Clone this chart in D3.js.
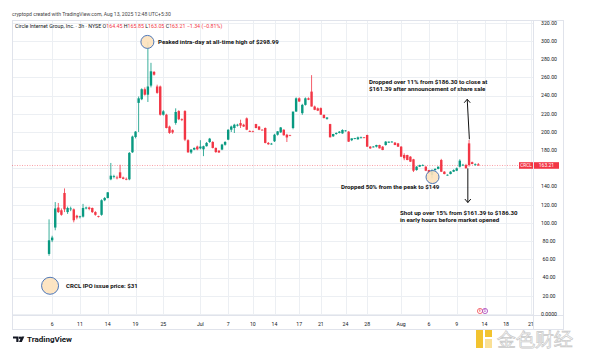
<!DOCTYPE html>
<html><head><meta charset="utf-8">
<script src="https://cdn.jsdelivr.net/npm/d3@7"></script>
<style>body{margin:0;background:#fff}svg{display:block}text{font-family:Roboto,"Noto Sans",sans-serif}</style>
</head><body><svg id="c" width="600" height="356"></svg>
<script>
// ---- data (3h candles, CRCL) ----
const openP=[66,81,95,117,114,133,112,115,115,108,107,107,116,117,116.5,112,107.5,109,125,127.5,
148,151,150,155.7,150,148.5,148,177.7,194.5,232,236,247,241,251,266,250,250,219,219,206,
202,210,223,214,223,191,177.5,180.7,184,182,181,184.4,189,189,182.5,179.5,180.7,186,191.6,202.5,
204.4,207,209.8,208,215,201,200.7,208.7,206,202.5,204.4,188,187,189.8,197,199.6,202.5,197,196.4,204.4,
222.5,237,220.7,229.8,237,244.4,228,226,226.2,218.9,214.5,208.7,195.3,197.8,199,198.5,201.3,200.4,191,193,
192,193.5,194.1,196.7,183.9,183.5,183.9,185.7,183.9,185.7,188.3,189,188.3,187.5,183.9,174.7,174.7,172.9,170,158.2,
161.9,163,161.9,158.2,152.7,158.2,159.5,169.2,156.4,152.7,153.8,156.4,157.5,161.9,163.7,163.7,187.5,166.8,164.5,164.45];
const highP=[104,86,123,122,116,138,118,118,116,109,108,121,118,118,117,113,108,126,128.5,134,
166,153,152,164,151,150,178,196,201,239,248,249,299,276,267,252,251,224,220,207,
203,226,224,215,224,192,181,183,185,191,185,189,193.5,190,183,180,187,190,203,207,
209,209,213.5,209,216,202,201.5,209,206.5,203,205,189,188,198,201,205.5,203,198,197,205,
238,238,231,238,238,262.5,229,227,227,219,216,209,198,199.5,201,203,202,201,193,193.5,
195,195,194.5,197,184.5,184.5,186,186,184.5,190,189.5,190,189,188,184.5,176.6,175,173.5,170.5,162.5,
164,164.5,162.5,158.5,159,160,162,170.5,157,153.5,157,159,161,170,165,165,191.2,167.5,165.5,165.85];
const lowP=[64,79,92,111,108,112,110,113,100.7,104,105,106,115,114,111,108,106,108,124,127,
147,149,148,149,148,147,147,177,193,200,235,240,233,249,262,242,218,218,204,198,
198,208,213,212,190,177,176,180,180,181,173.5,184,188,182,177,177,180,185,191,200,
198.9,206,204.4,205.5,202,200,200,204,202,202,187.5,186,186,189,196,199,196,189,196,203,
222,233,218.9,229,235,228,224,223,218.9,215,213.5,194,194.5,197,198.5,198,200.5,189,190,192,
191.5,193,193.5,183.5,181.5,183,183,182,180,185,188,188.5,185.5,183.5,172.5,169,169,167,156,157.5,
161.5,162.5,157,154,149,157.5,159,156,153.5,152,153.5,156,157,161,163,160,162,164.5,163,163.05];
const closeP=[81,84,116,112,109,115,116.5,116,103,106,107.3,116.5,117,115.5,112,109,107,125,127.5,133.7,
152,151.5,149.5,149.5,148.5,148,177,195,200.4,237,247,241,250,266.7,263,243,219,222.7,204.4,199,
199.5,222,214,213.6,191.6,177.7,180.7,182.5,181,184,184.4,188,192.7,182.5,178,177.5,186.2,189,202.5,206,
208,208,207,206,202.5,200.7,200.5,204.4,202.5,202,188,186.5,187.2,197,200.7,205,196.4,194,196,222.5,
237,233.5,229.8,237,235.5,228,224.4,223.5,219,215.3,216,194.2,197.8,199,200.4,202.2,201.7,189.4,193,193.2,
194.1,194.1,194,183.9,182,184,185.7,182,180.2,189.4,189.4,189.4,185.7,183.9,172.9,171.1,169.2,167.4,157.5,161.9,
163.7,163.7,157.5,154.6,158.2,159.5,161.9,156.4,153.8,153,156.4,158.2,160.1,168.5,164,160.1,163.7,164.9,164.5,163.21];
const tickIdx=[1,10,19,28,37,49,58,66,73,81,88,96,103,114,123,132,141,148,156];
const tickLabels=["6","11","14","19","25","Jul","7","10","14","17","21","24","28","Aug","6","9","14","18","21"];
const yTicks=[0,20,40,60,80,100,120,140,160,180,200,220,240,260,280,300,320];
const lastPrice=163.21;

const G="#089981", R="#f23645";
const svg=d3.select("#c");
const L=12, P=533, T=20, B=315, RA=563, BA=329;
const x=d3.scaleLinear().domain([-12,156.7]).range([L,P]);
const y=d3.scaleLinear().domain([0,320]).range([314,22.8]);

// grid
const grid=svg.append("g");
grid.selectAll("line.h").data(yTicks).join("line")
  .attr("x1",L).attr("x2",P).attr("y1",d=>Math.round(y(d))+0.5).attr("y2",d=>Math.round(y(d))+0.5)
  .attr("stroke","#eceff3").attr("stroke-width",1);
grid.selectAll("line.v").data(tickIdx).join("line")
  .attr("x1",d=>Math.round(x(d))+0.5).attr("x2",d=>Math.round(x(d))+0.5).attr("y1",T).attr("y2",B)
  .attr("stroke","#eceff3").attr("stroke-width",1);

// frame
svg.append("rect").attr("x",L+0.5).attr("y",T+0.5).attr("width",RA-L).attr("height",BA-T)
  .attr("fill","none").attr("stroke","#e0e3eb");
svg.append("line").attr("x1",P+0.5).attr("x2",P+0.5).attr("y1",T).attr("y2",BA).attr("stroke","#e0e3eb");
svg.append("line").attr("x1",L).attr("x2",RA).attr("y1",B+0.5).attr("y2",B+0.5).attr("stroke","#e0e3eb");

// price line
svg.append("line").attr("x1",L).attr("x2",P).attr("y1",y(lastPrice)).attr("y2",y(lastPrice))
  .attr("stroke",R).attr("stroke-opacity",0.6).attr("stroke-width",0.8).attr("stroke-dasharray","1,1.5");

// candles
const data=openP.map((o,i)=>({i,o,h:highP[i],l:lowP[i],c:closeP[i]}));
const cg=svg.append("g");
cg.selectAll("line").data(data).join("line")
  .attr("x1",d=>x(d.i)).attr("x2",d=>x(d.i)).attr("y1",d=>y(d.h)).attr("y2",d=>y(d.l))
  .attr("stroke",d=>d.c>=d.o?G:R).attr("stroke-width",0.8);
cg.selectAll("rect").data(data).join("rect")
  .attr("x",d=>x(d.i)-1.2).attr("width",2.4)
  .attr("y",d=>y(Math.max(d.o,d.c)))
  .attr("height",d=>Math.max(0.8,Math.abs(y(d.o)-y(d.c))))
  .attr("fill",d=>d.c>=d.o?G:R);

// y axis labels (the one under the last-price tag is hidden, as in the original)
const ly=y(lastPrice);
svg.append("g").selectAll("text").data(yTicks.filter(d=>Math.abs(y(d)-ly)>6)).join("text")
  .attr("x",549).attr("y",d=>y(d)).attr("dy","0.35em").attr("text-anchor","middle")
  .attr("font-size",5.2).attr("fill","#131722")
  .text(d=>d===0?"0.0000":d.toFixed(2));

// x axis labels
svg.append("g").selectAll("text").data(tickIdx).join("text")
  .attr("x",d=>x(d)).attr("y",324).attr("dy","0.35em").attr("text-anchor","middle")
  .attr("font-size",5.2).attr("fill","#131722")
  .text((d,i)=>tickLabels[i]);

// current price label
svg.append("rect").attr("x",519).attr("y",ly-3.3).attr("width",14).attr("height",6.6).attr("fill",R);
svg.append("rect").attr("x",534).attr("y",ly-3.3).attr("width",25).attr("height",6.6).attr("fill",R);
svg.append("text").attr("x",526).attr("y",ly).attr("dy","0.35em").attr("text-anchor","middle")
  .attr("font-size",4.6).attr("fill","#fff").text("CRCL");
svg.append("text").attr("x",546.5).attr("y",ly).attr("dy","0.35em").attr("text-anchor","middle")
  .attr("font-size",5).attr("fill","#fff").text(lastPrice.toFixed(2));

// header
svg.append("text").attr("x",12).attr("y",16).attr("font-size",5.1).attr("fill","#444")
  .text("cryptopd created with TradingView.com, Aug 13, 2025 12:48 UTC+5:30");
const h2=svg.append("text").attr("x",15).attr("y",28).attr("font-size",5.3).attr("fill","#131722");
h2.append("tspan").text("Circle Internet Group, Inc. · 3h · NYSE  ");
[["O","164.45"],["H","165.85"],["L","163.05"],["C","163.21"]].forEach(([k,v])=>{
  h2.append("tspan").text(k); h2.append("tspan").attr("fill",R).text(v+" ");
});
h2.append("tspan").attr("fill",R).text("−1.34 (−0.81%)");

// annotations
function circ(cx,cy,r){svg.append("circle").attr("cx",cx).attr("cy",cy).attr("r",r)
  .attr("fill","#fde2bd").attr("stroke","#4f78b8").attr("stroke-width",1).attr("fill-opacity",0.9);}
function note(tx,ty,lines){const t=svg.append("text").attr("x",tx).attr("y",ty).attr("font-size",6.1)
  .attr("font-weight",700).attr("fill","#111");
  lines.forEach((s,k)=>t.append("tspan").attr("x",tx).attr("dy",k?7.4:0).text(s));}
circ(x(32)-0.5,y(299),6.5);
note(158,44,["Peaked intra-day at all-time high of $298.99"]);
circ(x(0)+1,y(31),8.5);
note(66,288,["CRCL IPO issue price: $31"]);
circ(x(124)+0.5,y(150.5),6.5);
note(341,189,["Dropped 50% from the peak to $149"]);
note(369,84,["Dropped over 11% from $186.30 to close at","$161.39 after announcement of share sale"]);
note(400,215,["Shot up over 15% from $161.39 to $186.30","in early hours before market opened"]);
// arrows
const ar=svg.append("g").attr("stroke","#111").attr("stroke-width",1).attr("fill","none");
ar.append("line").attr("x1",x(136.1)).attr("y1",y(192)).attr("x2",x(135.4)).attr("y2",y(236));
ar.append("path").attr("d",`M${x(135.4)-3},${y(236)+3.5}L${x(135.4)},${y(236)}L${x(135.4)+3},${y(236)+3.5}`);
ar.append("line").attr("x1",x(135.6)).attr("y1",y(160)).attr("x2",x(135.6)).attr("y2",y(122.5));
ar.append("path").attr("d",`M${x(135.6)-3},${y(122.5)-3.5}L${x(135.6)},${y(122.5)}L${x(135.6)+3},${y(122.5)-3.5}`);

// event markers
svg.append("circle").attr("cx",480).attr("cy",311).attr("r",2.6).attr("fill","#fff").attr("stroke",R).attr("stroke-width",0.7);
svg.append("text").attr("x",480).attr("y",311).attr("dy","0.35em").attr("text-anchor","middle").attr("font-size",3.6).attr("fill",R).text("E");
svg.append("circle").attr("cx",485).attr("cy",311).attr("r",2.6).attr("fill","#fff").attr("stroke","#9c27b0").attr("stroke-width",0.7);
svg.append("text").attr("x",485).attr("y",311).attr("dy","0.35em").attr("text-anchor","middle").attr("font-size",3.6).attr("fill","#9c27b0").text("D");

// TradingView logo
const lg=svg.append("g").attr("fill","#131722");
lg.append("path").attr("d","M13,336.5h5.5v5.5h-2.2v-3.5h-3.3z");
lg.append("circle").attr("cx",20).attr("cy",337.7).attr("r",1.2);
lg.append("path").attr("d","M21.5,336.5h2.8l-2.5,5.5h-2.8z");
svg.append("text").attr("x",27).attr("y",342.3).attr("font-size",8).attr("font-weight",700).attr("fill","#131722").text("TradingView");

// watermark
svg.append("rect").attr("x",476).attr("y",330).attr("width",7).attr("height",18).attr("fill","#f0b90b").attr("opacity",0.85);
svg.append("rect").attr("x",485).attr("y",330).attr("width",7).attr("height",7).attr("fill","#f0b90b").attr("opacity",0.85);
svg.append("rect").attr("x",485).attr("y",339).attr("width",7).attr("height",9).attr("fill","#f8d36a").attr("opacity",0.7);
svg.append("text").attr("x",497).attr("y",346).attr("font-size",19).attr("font-family","'Noto Sans CJK SC'")
  .attr("fill","none").attr("stroke","#c8c8c8").attr("stroke-width",0.7).text("金色财经");
</script></body></html>
